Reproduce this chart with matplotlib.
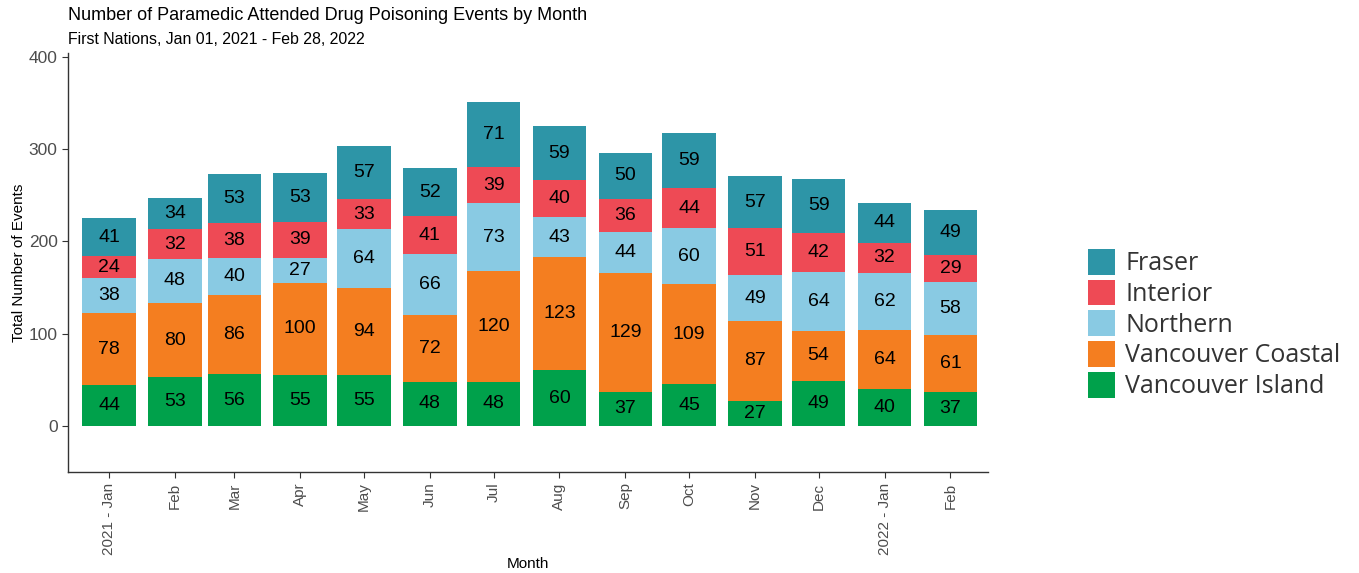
#!/usr/bin/env python3
"""Paramedic attended drug poisoning events by month, stacked by health authority."""

import datetime

import matplotlib
matplotlib.use('Agg')
import matplotlib.pyplot as plt
import matplotlib.dates as mdates
from matplotlib.patches import Patch

# Data
MONTHS = [datetime.date(2021, m, 1) for m in range(1, 13)] + \
         [datetime.date(2022, 1, 1), datetime.date(2022, 2, 1)]
MONTH_LABELS = ['2021 - Jan', 'Feb', 'Mar', 'Apr', 'May', 'Jun', 'Jul',
                'Aug', 'Sep', 'Oct', 'Nov', 'Dec', '2022 - Jan', 'Feb']

vancouver_island = [44, 53, 56, 55, 55, 48, 48, 60, 37, 45, 27, 49, 40, 37]
vancouver_coastal = [78, 80, 86, 100, 94, 72, 120, 123, 129, 109, 87, 54, 64, 61]
northern = [38, 48, 40, 27, 64, 66, 73, 43, 44, 60, 49, 64, 62, 58]
interior = [24, 32, 38, 39, 33, 41, 39, 40, 36, 44, 51, 42, 32, 29]
fraser = [41, 34, 53, 53, 57, 52, 71, 59, 50, 59, 57, 59, 44, 49]

# bottom to top
SERIES = [
    ('Vancouver Island', vancouver_island, '#00A14B'),
    ('Vancouver Coastal', vancouver_coastal, '#F47E20'),
    ('Northern', northern, '#89CAE3'),
    ('Interior', interior, '#EE4A55'),
    ('Fraser', fraser, '#2D95A7'),
]

BAR_WIDTH = 25.2  # days
GREY = '#4D4D4D'


def main():
    fig = plt.figure(figsize=(13.59, 5.73), dpi=100)
    ax = fig.add_axes([68 / 1359, 1 - 472 / 573, 920 / 1359, 419 / 573])

    x = mdates.date2num(MONTHS)
    bottom = [0] * len(x)
    for name, values, color in SERIES:
        ax.bar(x, values, width=BAR_WIDTH, bottom=bottom, color=color,
               edgecolor='none', zorder=2)
        for xi, b, v in zip(x, bottom, values):
            ax.text(xi, b + v / 2, str(v), ha='center', va='center',
                    fontsize=14, family='Liberation Sans', color='black', zorder=3)
        bottom = [b + v for b, v in zip(bottom, values)]

    # axes limits from the picture
    ax.set_xlim(x[0] - 19.3, x[-1] + 17.7)
    ax.set_ylim(-50, 404)

    ax.set_yticks([0, 100, 200, 300, 400])
    ax.set_xticks(x)
    ax.set_xticklabels(MONTH_LABELS, rotation=90, va='top', ha='center')
    ax.tick_params(axis='both', colors='#333333', labelcolor=GREY,
                   length=4, width=0.8)
    ax.tick_params(axis='x', labelsize=11)
    ax.tick_params(axis='y', labelsize=12.5)
    for lbl in ax.get_xticklabels() + ax.get_yticklabels():
        lbl.set_family('Liberation Sans')

    for side in ('top', 'right'):
        ax.spines[side].set_visible(False)
    for side in ('left', 'bottom'):
        ax.spines[side].set_color('#333333')
        ax.spines[side].set_linewidth(1.0)

    ax.set_ylabel('Total Number of Events', fontsize=11, family='Liberation Sans',
                  color='black', labelpad=2)
    fig.text(528 / 1359, 1 - 564 / 573, 'Month', ha='center', va='center',
             fontsize=11, family='Liberation Sans')

    fig.text(68 / 1359, 1 - 16 / 573, 'Number of Paramedic Attended Drug Poisoning Events by Month',
             ha='left', va='center', fontsize=13, family='Liberation Sans')
    fig.text(68 / 1359, 1 - 39 / 573, 'First Nations, Jan 01, 2021 - Feb 28, 2022',
             ha='left', va='center', fontsize=11.4, family='Liberation Sans')

    handles = [Patch(facecolor=c, edgecolor='none', label=n)
               for n, v, c in reversed(SERIES)]
    fig.legend(handles=handles, loc='center left',
               bbox_to_anchor=(1065 / 1359, 1 - 324 / 573),
               frameon=False, prop={'family': 'Open Sans', 'size': 18},
               handlelength=1.1, handleheight=1.2, handletextpad=0.4,
               labelspacing=0.14, labelcolor='#333333')

    fig.savefig('out.png', dpi=100)


if __name__ == '__main__':
    main()
